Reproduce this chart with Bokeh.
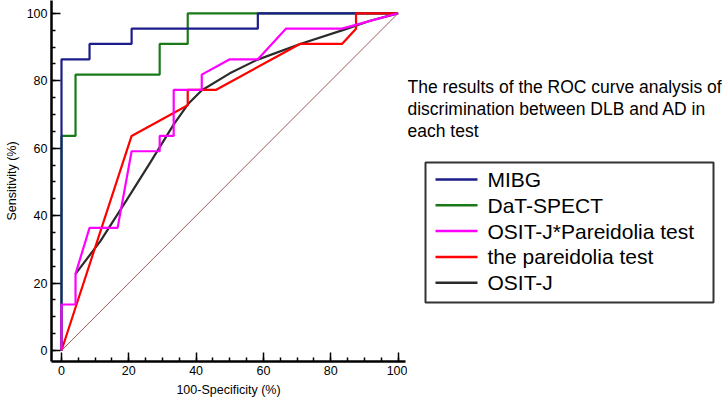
from bokeh.plotting import figure
from bokeh.models import Range1d, SingleIntervalTicker, Label
from bokeh.layouts import row
from bokeh.embed import file_html
from bokeh.resources import INLINE

# ---- data ----
mibg_x = [0, 0, 8.33, 8.33, 20.83, 20.83, 58.33, 58.33, 100]
mibg_y = [0, 86.36, 86.36, 90.91, 90.91, 95.45, 95.45, 100, 100]

dat_x = [0, 0, 4.17, 4.17, 29.17, 29.17, 37.5, 37.5, 100]
dat_y = [0, 63.64, 63.64, 81.82, 81.82, 90.91, 90.91, 100, 100]

osit_par_x = [0, 0, 4.17, 4.17, 8.33, 16.67, 20.83, 29.17, 29.17, 33.33, 33.33,
              41.67, 41.67, 50.0, 58.33, 66.67, 83.33, 100]
osit_par_y = [0, 13.64, 13.64, 22.73, 36.36, 36.36, 59.09, 59.09, 63.64, 63.64, 77.27,
              77.27, 81.82, 86.36, 86.36, 95.45, 95.45, 100]

par_x = [0, 20.83, 37.5, 37.5, 45.83, 70.83, 83.33, 87.5, 87.5, 100]
par_y = [0, 63.64, 72.73, 77.27, 77.27, 90.91, 90.91, 95.45, 100, 100]

osit_x = [4.17, 11.6, 19.3, 26.4, 33.3, 37.6, 41.7, 50.0, 58.1, 70.9, 83.8, 91.7, 100]
osit_y = [22.73, 32.5, 44.5, 55.8, 67.0, 73.1, 77.2, 82.2, 86.2, 90.9, 95.1, 97.8, 100]

diag_x = [0, 100]
diag_y = [0, 100]

series_names = ["MIBG", "DaT-SPECT", "OSIT-J*Pareidolia test", "the pareidolia test", "OSIT-J"]
series_colors = ["#1c1c8a", "#1a7a1a", "#ff00ff", "#ff0000", "#2b2b2b"]

title_lines = ["The results of the ROC curve analysis of",
               "discrimination between DLB and AD in",
               "each test"]

x_label = "100-Specificity (%)"
y_label = "Sensitivity (%)"

FONT = "Liberation Sans"
H = 401
BOTTOM = 40
W1 = 407
W_TOTAL = 726

# ---- main ROC plot ----
p = figure(width=W1, height=H, output_backend="svg", toolbar_location=None,
           x_range=Range1d(-2.97, 102.2), y_range=Range1d(-3.26, 103.8),
           min_border_left=51, min_border_right=2, min_border_top=0, min_border_bottom=BOTTOM)
p.grid.visible = False
p.outline_line_color = None

for ax in (p.xaxis[0], p.yaxis[0]):
    ax.ticker = SingleIntervalTicker(interval=20, num_minor_ticks=4)
    ax.axis_line_width = 2.5
    ax.axis_line_color = "black"
    ax.major_tick_in = 9
    ax.major_tick_out = 0
    ax.minor_tick_in = 4
    ax.minor_tick_out = 0
    ax.major_tick_line_width = 1.5
    ax.minor_tick_line_width = 1.5
    ax.major_tick_line_color = "black"
    ax.minor_tick_line_color = "black"
    ax.major_label_text_font = FONT
    ax.major_label_text_font_size = "12.5px"
    ax.major_label_text_color = "black"
    ax.axis_label_text_font = FONT
    ax.axis_label_text_font_size = "12.5px"
    ax.axis_label_text_font_style = "normal"
    ax.axis_label_text_color = "black"

p.xaxis.axis_label = x_label
p.yaxis.axis_label = y_label
p.xaxis.major_label_standoff = 4
p.xaxis.axis_label_standoff = 5
p.yaxis.major_label_standoff = 4
p.yaxis.axis_label_standoff = 5

p.line(diag_x, diag_y, line_color="#a05a5a", line_width=1)
p.line(dat_x, dat_y, line_color=series_colors[1], line_width=2.2)
p.line(mibg_x, mibg_y, line_color=series_colors[0], line_width=2.2)
p.line(osit_x, osit_y, line_color=series_colors[4], line_width=2.2)
p.line(par_x, par_y, line_color=series_colors[3], line_width=2.2)
p.line(osit_par_x, osit_par_y, line_color=series_colors[2], line_width=2.2)

# ---- side panel: caption + legend (pixel-like coordinates, y downward) ----
W2 = W_TOTAL - W1
FH = H - BOTTOM
q = figure(width=W2, height=H, output_backend="svg", toolbar_location=None,
           x_range=Range1d(0, W2), y_range=Range1d(FH, 0),
           x_axis_type=None, y_axis_type=None,
           min_border_left=0, min_border_right=0, min_border_top=0, min_border_bottom=BOTTOM)
q.grid.visible = False
q.outline_line_color = None

for i, t in enumerate(title_lines):
    q.add_layout(Label(x=0, y=86 + 22 * i, text=t, text_font=FONT, text_font_size="17.5px",
                       text_baseline="middle", text_align="left", text_color="black"))

box_left, box_right, box_top, box_bottom = 18, 306, 162, 302
q.quad(left=[box_left], right=[box_right], top=[box_top], bottom=[box_bottom],
       fill_color="white", line_color="#333333", line_width=2)
row_y = [179 + 25.8 * i for i in range(len(series_names))]
q.segment(x0=[28] * len(row_y), x1=[70] * len(row_y), y0=row_y, y1=row_y,
          line_color=series_colors, line_width=2.5)
for name, yy in zip(series_names, row_y):
    q.add_layout(Label(x=80, y=yy, text=name, text_font=FONT, text_font_size="21px",
                       text_baseline="middle", text_align="left", text_color="black"))

layout = row(p, q)
open("out.html", "w").write(file_html(layout, INLINE))
